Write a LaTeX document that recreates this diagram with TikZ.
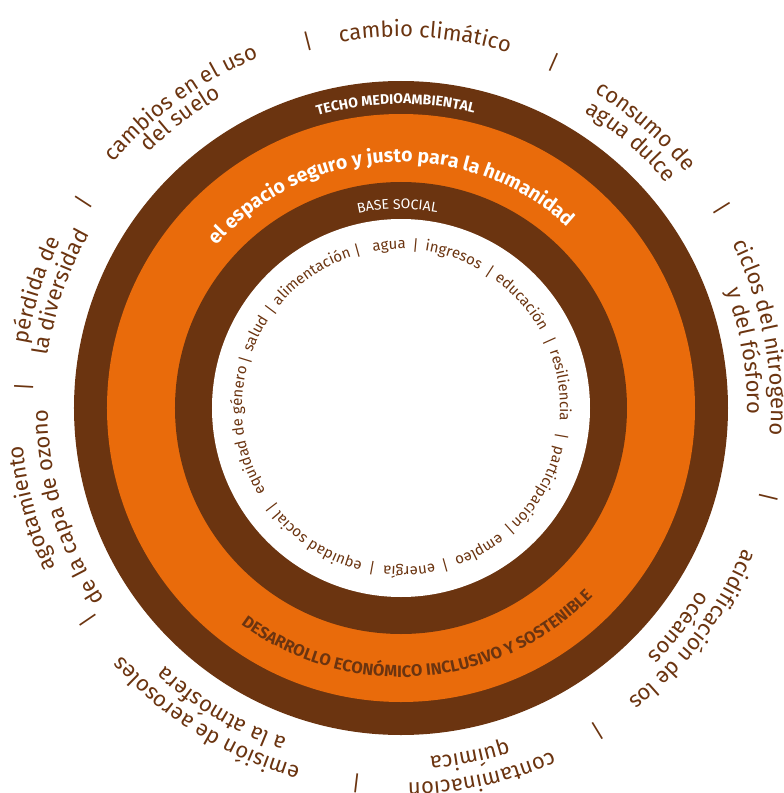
\documentclass[tikz,border=0pt]{standalone}
\usepackage{fontspec}
\setmainfont{Fira Sans}
\usetikzlibrary{decorations.text}

\definecolor{techo}{HTML}{6B3410}
\definecolor{espacio}{HTML}{E96B0B}

% clockwise text on a circle: format, angle, radius, text
\newcommand\cwtext[4]{%
  \path[decorate,decoration={text along path,text align=center,text={|#1|#4}}]
    (#2+70:#3) arc[start angle=#2+70,end angle=#2-70,radius=#3];}
\newcommand\outerfmt{\fontsize{22}{22}\selectfont\color{techo}}
\newcommand\innerfmt{\fontsize{15}{15}\selectfont\color{techo}}

\begin{document}
\begin{tikzpicture}[x=1pt,y=1pt,
  sepmark/.style={text=techo,font=\fontsize{21}{21}\selectfont,inner sep=0pt},
  barmark/.style={text=techo,font=\fontsize{15}{15}\selectfont,inner sep=0pt}]
  \useasboundingbox (-401,-385) rectangle (383,408);

  % rings
  \fill[techo] (0,0) circle (327);
  \fill[espacio] (0,0) circle (294);
  \fill[techo] (0,0) circle (226);
  \fill[white] (0,0) circle (189);

  % band titles
  \cwtext{\fontsize{14}{14}\selectfont\bfseries\color{white}}{91}{304}{TECHO MEDIOAMBIENTAL}
  \cwtext{\fontsize{19.5}{20}\selectfont\bfseries\color{white}}{93}{246}{el espacio seguro y justo para la humanidad}
  \cwtext{\fontsize{14}{14}\selectfont\color{white}}{91}{199}{BASE SOCIAL}
  \path[decorate,decoration={text along path,text align=center,
    text={|\fontsize{16.5}{17}\selectfont\bfseries\color{techo}|DESARROLLO ECONÓMICO INCLUSIVO Y SOSTENIBLE}}]
    (-155.5:269) arc[start angle=-155.5,end angle=-15.5,radius=269];

  % planetary boundaries
  \cwtext{\outerfmt}{86.3}{371}{cambio climático}
  \cwtext{\outerfmt}{49}{370}{consumo de}
  \cwtext{\outerfmt}{49.2}{348}{agua dulce}
  \cwtext{\outerfmt}{11.1}{370}{ciclos del nitrogeno}
  \cwtext{\outerfmt}{9.4}{346}{y del fósforo}
  \cwtext{\outerfmt}{-37.2}{370}{acidificación de los}
  \cwtext{\outerfmt}{-38.3}{349}{océanos}
  \cwtext{\outerfmt}{-77.6}{375}{contaminación}
  \cwtext{\outerfmt}{-78.8}{350}{química}
  \cwtext{\outerfmt}{-122}{373}{emisión de aerosoles}
  \cwtext{\outerfmt}{-120.8}{350}{a la atmósfera}
  \cwtext{\outerfmt}{-164.8}{380}{agotamiento}
  \cwtext{\outerfmt}{-163.4}{353}{de la capa de ozono}
  \cwtext{\outerfmt}{162.1}{379}{pérdida de}
  \cwtext{\outerfmt}{161.2}{357}{la diversidad}
  \cwtext{\outerfmt}{125.8}{378}{cambios en el uso}
  \cwtext{\outerfmt}{127.3}{359}{del suelo}

  \foreach \a [count=\i] in {104.3,66.2,32,-13.6,-58.7,-96.8,-145.8,176.8,147}
    \node[sepmark,rotate=\a-90] (sep\i) at (\a:378) {|};

  % social foundation
  \cwtext{\innerfmt}{94.2}{159}{agua}
  \cwtext{\innerfmt}{71}{159}{ingresos}
  \cwtext{\innerfmt}{41.4}{159}{educación}
  \cwtext{\innerfmt}{8.1}{159}{resiliencia}
  \cwtext{\innerfmt}{-30}{159}{participación}
  \cwtext{\innerfmt}{-61.2}{159}{empleo}
  \cwtext{\innerfmt}{-87.1}{159}{energía}
  \cwtext{\innerfmt}{-122}{159}{equidad social}
  \cwtext{\innerfmt}{-171.6}{159}{equidad de género}
  \cwtext{\innerfmt}{153}{159}{salud}
  \cwtext{\innerfmt}{124.1}{159}{alimentación}

  \foreach \a [count=\i] in {105.5,84.9,57,24.4,-9.9,-48.2,-74.3,-100.3,-142.6,162.8,143.1}
    \node[barmark,rotate=\a-90] (bar\i) at (\a:163) {|};
\end{tikzpicture}
\end{document}
